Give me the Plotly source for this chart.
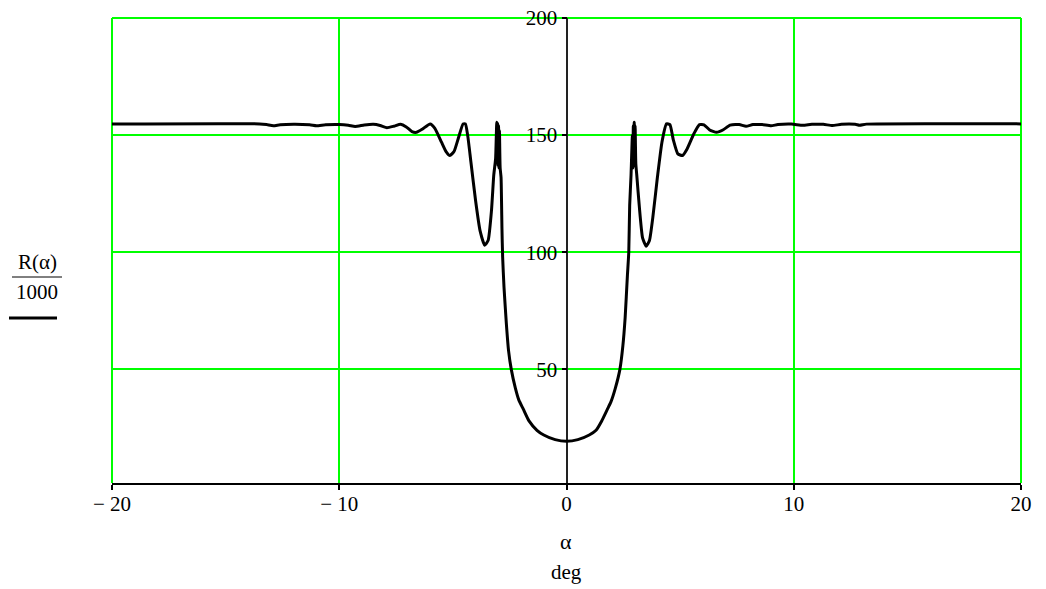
import plotly.graph_objects as go

# Data (alpha in deg, R(alpha)/1000)
alpha_left = [-20, -13.5, -13.2, -12.9, -12.6, -12.0, -11.3, -11.0, -10.6, -10.0,
              -9.6, -9.3, -8.9, -8.5, -8.2, -7.9, -7.6, -7.3, -7.05, -6.8,
              -6.6, -6.35, -6.0, -5.8, -5.5, -5.3, -5.13, -4.95, -4.75, -4.55,
              -4.45, -4.35, -4.2, -4.0, -3.8, -3.6, -3.45, -3.3, -3.2, -3.12,
              -3.07, -3.05, -3.03, -3.01, -2.99, -2.97, -2.95, -2.92, -2.88, -2.84,
              -2.81, -2.75, -2.65, -2.55, -2.43, -2.25, -2.1, -1.9, -1.65, -1.3,
              -1.0, -0.5]
r_left = [154.8, 154.8, 154.5, 154.0, 154.4, 154.6, 154.4, 154.0, 154.4, 154.5,
          154.2, 153.7, 154.3, 154.6, 154.1, 153.2, 153.8, 154.6, 153.5, 151.5,
          151.2, 152.5, 154.8, 153.0, 147.0, 143.0, 141.3, 143.0, 149.0, 154.8,
          154.8, 150.0, 138.0, 122.0, 109.0, 103.0, 105.0, 118.0, 133.0, 140.0,
          155.5, 138.0, 155.0, 137.0, 154.0, 136.0, 152.0, 136.0, 132.0, 110.0,
          98.0, 85.0, 70.0, 58.0, 50.0, 42.0, 37.0, 33.0, 28.0, 24.0,
          22.0, 20.0]
alpha_mid = [0]
r_mid = [19.3]
alpha_right = [0.5, 1.0, 1.3, 1.55, 1.8, 1.95, 2.15, 2.35, 2.48, 2.58,
               2.68, 2.74, 2.78, 2.84, 2.9, 2.92, 2.94, 2.96, 2.98, 3.0,
               3.02, 3.05, 3.1, 3.2, 3.35, 3.51, 3.65, 3.8, 4.0, 4.2,
               4.4, 4.55, 4.7, 4.9, 5.1, 5.3, 5.6, 5.85, 6.05, 6.3,
               6.6, 6.9, 7.2, 7.6, 7.9, 8.2, 8.6, 9.0, 9.3, 9.9,
               10.4, 10.8, 11.3, 11.7, 12.1, 12.7, 12.9, 13.2, 20]
r_right = [20.0, 22.0, 24.0, 28.0, 33.0, 36.0, 42.0, 50.0, 60.0, 72.0,
           90.0, 100.0, 120.0, 133.0, 150.0, 136.0, 154.0, 137.0, 155.5, 137.0,
           154.0, 138.0, 132.0, 120.0, 106.0, 102.6, 105.0, 115.0, 132.0, 147.0,
           154.8, 154.5, 148.0, 142.0, 141.3, 144.0, 150.5, 154.5, 154.4, 152.2,
           151.2, 152.3, 154.3, 154.5, 153.8, 154.5, 154.5, 154.0, 154.5, 154.7,
           154.2, 154.6, 154.6, 154.1, 154.6, 154.6, 154.2, 154.7, 154.8]

x_ticks = [-20, -10, 0, 10, 20]
x_tick_text = ["\u2212 20", "\u2212 10", "0", "10", "20"]
y_ticks = [50, 100, 150, 200]
y_tick_text = ["50", "100", "150", "200"]

alpha = alpha_left + alpha_mid + alpha_right
r = r_left + r_mid + r_right

FONT = "Liberation Serif"
GREEN = "#00ff00"

# plot area in pixels
L, R, T, B = 112, 1021, 18, 483
W, H = 1046, 589


def px(xp):
    return (xp - L) / (R - L)


def py(yp):
    return (B - yp) / (B - T)


fig = go.Figure()
fig.add_trace(go.Scatter(x=alpha, y=r, mode="lines",
                         line=dict(color="black", width=3, shape="spline",
                                   smoothing=0.5),
                         showlegend=False, hoverinfo="skip"))

fig.update_layout(
    template="none",
    width=W, height=H,
    margin=dict(l=L, r=W - R, t=T, b=H - B, pad=0, autoexpand=False),
    plot_bgcolor="white", paper_bgcolor="white",
    font=dict(family=FONT, size=21, color="black"),
    xaxis=dict(range=[-20, 20], tickvals=x_ticks, ticktext=x_tick_text,
               automargin=False, ticklabelstandoff=-4,
               showgrid=True, gridcolor=GREEN, gridwidth=1.5,
               zeroline=True, zerolinecolor="#222222", zerolinewidth=2,
               showline=True, linecolor="black", linewidth=2,
               ticks="outside", ticklen=5, tickcolor="black", tickwidth=2),
    yaxis=dict(range=[1.5, 200], tickvals=y_ticks, ticktext=y_tick_text,
               automargin=False,
               showgrid=True, gridcolor=GREEN, gridwidth=1.5, zeroline=False,
               anchor="free", position=0.5, showline=False,
               ticks="outside", ticklen=5, tickcolor="black", tickwidth=1.5),
)

# green border on left, right, top
for x0, y0, x1, y1 in [(0, 0, 0, 1), (1, 0, 1, 1), (0, 1, 1, 1)]:
    fig.add_shape(type="line", xref="paper", yref="paper", x0=x0, y0=y0,
                  x1=x1, y1=y1, line=dict(color=GREEN, width=2), layer="below")

# axis title (x)
fig.add_annotation(xref="paper", yref="paper", x=px(566), y=py(541),
                   text="\u03b1", showarrow=False, font=dict(size=22),
                   xanchor="center", yanchor="middle")
fig.add_annotation(xref="paper", yref="paper", x=px(566), y=py(572),
                   text="deg", showarrow=False, font=dict(size=21),
                   xanchor="center", yanchor="middle")

# y label as fraction with legend line
fig.add_annotation(xref="paper", yref="paper", x=px(37), y=py(262),
                   text="R(\u03b1)", showarrow=False, font=dict(size=21),
                   xanchor="center", yanchor="middle")
fig.add_annotation(xref="paper", yref="paper", x=px(37), y=py(292),
                   text="1000", showarrow=False, font=dict(size=21),
                   xanchor="center", yanchor="middle")
fig.add_shape(type="line", xref="paper", yref="paper", x0=px(12), x1=px(62),
              y0=py(277), y1=py(277), line=dict(color="black", width=1))
fig.add_shape(type="line", xref="paper", yref="paper", x0=px(9), x1=px(57),
              y0=py(318), y1=py(318), line=dict(color="black", width=3))

fig.write_html("out.html", config={"displayModeBar": False},
               post_script="document.body.style.margin='0';"
                           "document.body.style.overflow='hidden';")
